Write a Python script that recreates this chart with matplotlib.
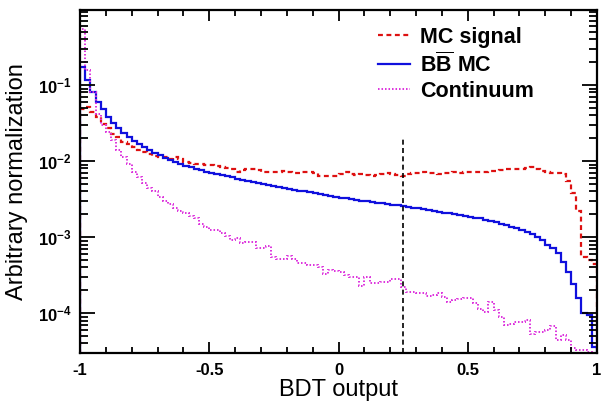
import matplotlib
matplotlib.use("Agg")
import matplotlib.pyplot as plt
from matplotlib.ticker import FixedLocator, MultipleLocator, LogLocator, NullFormatter, FuncFormatter
import numpy as np

plt.rcParams['font.family'] = ['Liberation Sans', 'DejaVu Sans']
plt.rcParams['mathtext.fontset'] = 'custom'
plt.rcParams['mathtext.rm'] = 'Liberation Sans'
plt.rcParams['mathtext.bf'] = 'Liberation Sans:bold'
plt.rcParams['axes.unicode_minus'] = False

# 100 bins from -1 to 1
edges = np.linspace(-1, 1, 101)

mc_signal = [
    0.048, 0.052, 0.0445, 0.038, 0.0304, 0.0269, 0.0226, 0.0205, 0.0180, 0.0167,
    0.0155, 0.0140, 0.0133, 0.0124, 0.0118, 0.0114, 0.0114, 0.0107, 0.0112, 0.0106,
    0.0098, 0.0095, 0.0093, 0.0091, 0.0089, 0.0089, 0.0087, 0.0084, 0.0080, 0.0078,
    0.0071, 0.0076, 0.0078, 0.0078, 0.0076, 0.0072, 0.0071, 0.0071, 0.0072, 0.0075,
    0.0072, 0.0069, 0.0069, 0.0071, 0.0071, 0.0069, 0.0064, 0.0064, 0.0064, 0.0064,
    0.0067, 0.0071, 0.0067, 0.0066, 0.0067, 0.0066, 0.0064, 0.0066, 0.0067, 0.0070,
    0.0067, 0.0066, 0.0064, 0.0067, 0.0070, 0.0069, 0.0071, 0.0070, 0.0069, 0.0067,
    0.0070, 0.0069, 0.0071, 0.0070, 0.0072, 0.0072, 0.0071, 0.0071, 0.0072, 0.0075,
    0.0075, 0.0076, 0.0078, 0.0078, 0.0079, 0.0079, 0.0082, 0.0084, 0.0078, 0.0075,
    0.0071, 0.0070, 0.0070, 0.0068, 0.0055, 0.0038, 0.0022, 0.00055, 0.00050, 0.00044]

bb_mc = [
    0.171, 0.116, 0.082, 0.060, 0.048, 0.038, 0.032, 0.0275, 0.0236, 0.0208,
    0.0185, 0.0166, 0.0151, 0.0140, 0.0129, 0.0119, 0.0111, 0.0103, 0.0097, 0.0092,
    0.0087, 0.0083, 0.0079, 0.0076, 0.0073, 0.0070, 0.0067, 0.0065, 0.0063, 0.0061,
    0.0059, 0.0057, 0.0055, 0.0053, 0.0052, 0.0050, 0.0048, 0.0047, 0.0045, 0.0044,
    0.0043, 0.0042, 0.0041, 0.0040, 0.0039, 0.0038, 0.0037, 0.0036, 0.0035, 0.0034,
    0.0033, 0.00323, 0.00316, 0.00310, 0.00303, 0.00297, 0.00290, 0.00284, 0.00278, 0.00272,
    0.00266, 0.00261, 0.00255, 0.00250, 0.00245, 0.00239, 0.00233, 0.00227, 0.00222, 0.00216,
    0.00211, 0.00206, 0.00201, 0.00196, 0.00191, 0.00186, 0.00181, 0.00176, 0.00170, 0.00164,
    0.00157, 0.00150, 0.00144, 0.00138, 0.00132, 0.00126, 0.00118, 0.00110, 0.00101, 0.00092,
    0.00080, 0.00071, 0.00061, 0.00047, 0.00035, 0.00024, 0.000160, 0.000100, 0.000095, 0.000036]

continuum = [
    0.55, 0.160, 0.082, 0.042, 0.030, 0.0243, 0.019, 0.0140, 0.0114, 0.0091,
    0.0072, 0.0062, 0.0051, 0.0044, 0.0040, 0.0034, 0.0030, 0.0027, 0.0024, 0.0022,
    0.0021, 0.0019, 0.0018, 0.0015, 0.00137, 0.00126, 0.00126, 0.00114, 0.00103, 0.00093,
    0.00099, 0.00084, 0.00087, 0.00087, 0.00071, 0.00071, 0.00076, 0.00055, 0.00051, 0.00051,
    0.00056, 0.00051, 0.00046, 0.00046, 0.00043, 0.00043, 0.00041, 0.00033, 0.00037, 0.00036,
    0.00035, 0.00032, 0.00030, 0.00030, 0.00023, 0.00030, 0.00025, 0.00025, 0.00026, 0.00026,
    0.00028, 0.00028, 0.00022, 0.00019, 0.00019, 0.000186, 0.000186, 0.000168, 0.000172, 0.000186,
    0.000165, 0.000141, 0.00015, 0.000155, 0.00016, 0.00016, 0.000135, 0.000115, 0.000104, 0.000141,
    0.00011, 0.000089, 0.0000695, 0.000073, 0.000077, 0.000077, 0.000081, 0.0000537, 0.0000565, 0.0000565,
    0.00006, 0.0000675, 0.000044, 0.000051, 0.000044, 0.000035, 0.000033, 0.000033, 0.000031, 0.00003]

cut_value = 0.25
cut_top = 0.02

x_ticks = [-1, -0.5, 0, 0.5, 1]
x_tick_labels = ['-1', '-0.5', '0', '0.5', '1']

fig = plt.figure(figsize=(6.03, 4.04), dpi=100)
ax = fig.add_axes([80/603, 1 - 353/404, 517/603, 343/404])

ax.stairs(mc_signal, edges, color='#dd1111', lw=1.6, ls=(0, (2.2, 1.6)), label='MC signal')
ax.stairs(bb_mc, edges, color='#1010dd', lw=1.6, label=r'$\mathbf{B\overline{B}}$ MC')
ax.stairs(continuum, edges, color='#dd33dd', lw=1.4, ls=(0, (0.8, 1.0)), label='Continuum')
ax.plot([cut_value, cut_value], [3e-5, cut_top], color='black', lw=1.2, ls=(0, (3, 2)))

ax.set_yscale('log')
ax.set_xlim(-1, 1)
ax.set_ylim(3e-5, 0.97)

ax.xaxis.set_major_locator(FixedLocator(x_ticks))
ax.set_xticklabels(x_tick_labels, fontweight='bold', fontsize=12)
ax.xaxis.set_minor_locator(MultipleLocator(0.1))
ax.yaxis.set_major_locator(LogLocator(base=10, numticks=10))
ax.yaxis.set_minor_locator(LogLocator(base=10, subs=np.arange(2, 10), numticks=20))
ax.yaxis.set_minor_formatter(NullFormatter())
ax.yaxis.set_major_formatter(FuncFormatter(lambda v, p: r'$\mathbf{10^{%d}}$' % round(np.log10(v))))

ax.tick_params(axis='both', which='both', direction='in', top=True, right=True, width=1.3, colors='black')
ax.tick_params(axis='x', which='major', length=8, pad=7)
ax.tick_params(axis='x', which='minor', length=4.5)
ax.tick_params(axis='y', which='major', length=11, pad=6, labelsize=12)
ax.tick_params(axis='y', which='minor', length=5.5)
for s in ax.spines.values():
    s.set_linewidth(1.6)

ax.set_xlabel('BDT output', fontsize=17, labelpad=1)
ax.set_ylabel('Arbitrary normalization', fontsize=17, labelpad=7)

leg = ax.legend(loc='upper left', bbox_to_anchor=(378/603, 1 - 27/404), bbox_transform=fig.transFigure,
                frameon=False, handlelength=1.5, handletextpad=0.45, labelspacing=0.2,
                prop={'weight': 'bold', 'size': 15.5}, borderaxespad=0, borderpad=0)

fig.savefig('out.png', dpi=100)
